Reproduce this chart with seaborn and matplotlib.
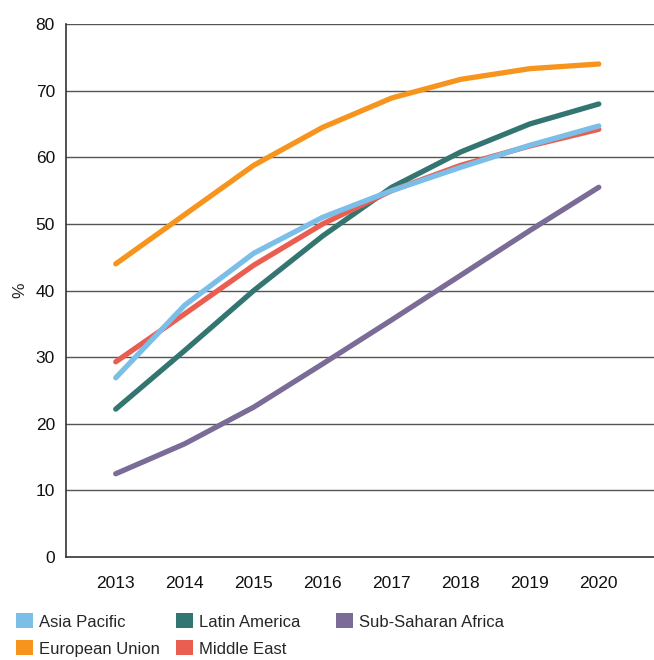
import matplotlib
matplotlib.use("Agg")
import matplotlib.pyplot as plt
from matplotlib.patches import Patch
import seaborn as sns
import pandas as pd

years = [2013, 2014, 2015, 2016, 2017, 2018, 2019, 2020]
asia_pacific = [26.9, 37.8, 45.6, 51.0, 55.0, 58.5, 61.8, 64.7]
european_union = [44.0, 51.4, 58.8, 64.5, 68.9, 71.7, 73.3, 74.0]
latin_america = [22.2, 31.0, 40.0, 48.2, 55.5, 60.8, 65.0, 68.0]
middle_east = [29.3, 36.5, 43.8, 50.0, 55.0, 58.8, 61.7, 64.2]
sub_saharan_africa = [12.5, 17.0, 22.5, 29.0, 35.6, 42.3, 49.0, 55.5]

series = {
    "Latin America": latin_america,
    "European Union": european_union,
    "Sub-Saharan Africa": sub_saharan_africa,
    "Middle East": middle_east,
    "Asia Pacific": asia_pacific,
}
colors = {
    "Asia Pacific": "#7BBEE8",
    "European Union": "#F7941D",
    "Latin America": "#337570",
    "Middle East": "#E95E50",
    "Sub-Saharan Africa": "#7A6C96",
}

rows = []
for name, vals in series.items():
    for y, v in zip(years, vals):
        rows.append({"year": y, "value": v, "region": name})
df = pd.DataFrame(rows)

sns.set_style("white")
plt.rcParams["font.family"] = ["Liberation Sans Narrow", "Liberation Sans", "DejaVu Sans"]

fig = plt.figure(figsize=(6.54, 6.6), dpi=100)
ax = fig.add_axes([0.101, 0.156, 0.899, 0.8076])

for gy in range(10, 81, 10):
    ax.axhline(gy, color="#555555", lw=1.0, zorder=0)

sns.lineplot(data=df, x="year", y="value", hue="region",
             hue_order=list(series.keys()), palette=colors,
             lw=3.8, ax=ax, legend=False, solid_capstyle="round")

ax.set_xlim(2013 - 0.72, 2013 + 7.8)
ax.set_ylim(0, 80)
ax.set_yticks(range(0, 81, 10))
ax.set_xticks(years)
ax.set_xticklabels([str(y) for y in years])
ax.tick_params(axis="both", length=0, labelsize=12.5, colors="#111111")
ax.tick_params(axis="x", pad=14)
ax.tick_params(axis="y", pad=8)
ax.set_xlabel("")
ax.set_ylabel("%", fontsize=12.5, labelpad=6)

for side in ["top", "right"]:
    ax.spines[side].set_visible(False)
for side in ["left", "bottom"]:
    ax.spines[side].set_color("#333333")
    ax.spines[side].set_linewidth(1.2)

# legend laid out as three fixed-width columns
legend_columns = [["Asia Pacific", "European Union"],
                  ["Latin America", "Middle East"],
                  ["Sub-Saharan Africa"]]
col_x = [16 / 654, 176 / 654, 336 / 654]
for names, x0 in zip(legend_columns, col_x):
    handles = [Patch(facecolor=colors[n], edgecolor="none", label=n) for n in names]
    fig.legend(handles=handles, ncol=1, loc="upper left",
               bbox_to_anchor=(x0, 0.0705), frameon=False, fontsize=12,
               handlelength=1.0, handleheight=1.0, handletextpad=0.4,
               labelspacing=0.65, borderpad=0, borderaxespad=0)

fig.savefig("out.png", dpi=100)
